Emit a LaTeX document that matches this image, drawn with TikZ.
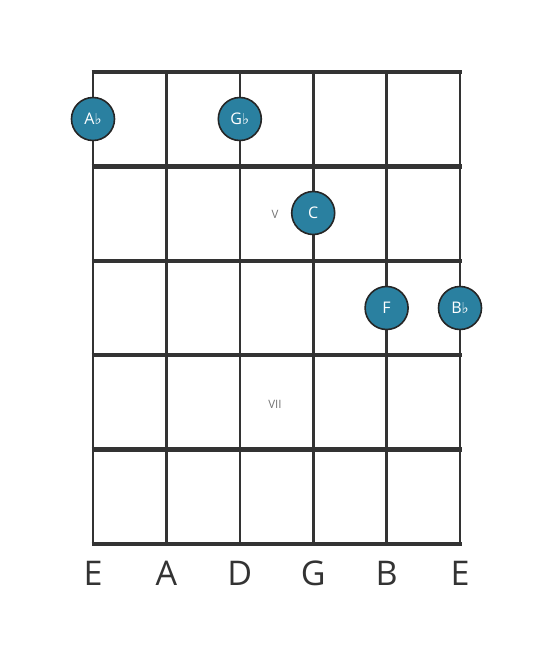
\documentclass[tikz,border=0pt]{standalone}
\usepackage{fontspec}
\setmainfont{Open Sans}
\newfontfamily\flatfont{DejaVu Sans}
\definecolor{notecol}{RGB}{42,128,160}
\definecolor{gridcol}{RGB}{51,51,51}
\newcommand{\flt}{{\flatfont\fontsize{15}{15}\selectfont\char"266D}}
\begin{document}
\begin{tikzpicture}
		[x=1pt,y=-1pt,
		fret/.style={draw=gridcol,line width=4.5pt},
		gstring/.style={draw=gridcol,line width=2.6pt},
		note/.style={circle,draw=black!85,line width=1.6pt,fill=notecol,text=white,minimum size=43pt,inner sep=0pt,font=\fontsize{16}{16}\selectfont},
		fretmark/.style={text=black!55,font=\fontsize{11.5}{11.5}\selectfont},
		strname/.style={text=gridcol,font=\fontsize{34}{34}\selectfont}]
		\useasboundingbox (0,0) rectangle (553,656);
		% frets
		\foreach \y in {72,166.4,260.8,355.2,449.6,544}
		{
			\draw[fret] (91.5,\y) -- (461.5,\y);
		}
		% strings
		\foreach \x/\s [count=\i] in {93/E,166.4/A,239.8/D,313.2/G,386.6/B,460/E}
		{
			\draw[gstring] (\x,72) -- (\x,544);
			\node[strname,name=s\i] at (\x,573) {\s};
		}
		% position marks
		\node[fretmark,name=p5] at (275,214) {V};
		\node[fretmark,name=p7] at (275,404) {VII};
		% notes
		\node[note,name=n1] at (93,119) {A\flt};
		\node[note,name=n2] at (239.8,119) {G\flt};
		\node[note,name=n3] at (313.2,213) {C};
		\node[note,name=n4] at (386.6,308) {F};
		\node[note,name=n5] at (460,308) {B\flt};
	\end{tikzpicture}
\end{document}
